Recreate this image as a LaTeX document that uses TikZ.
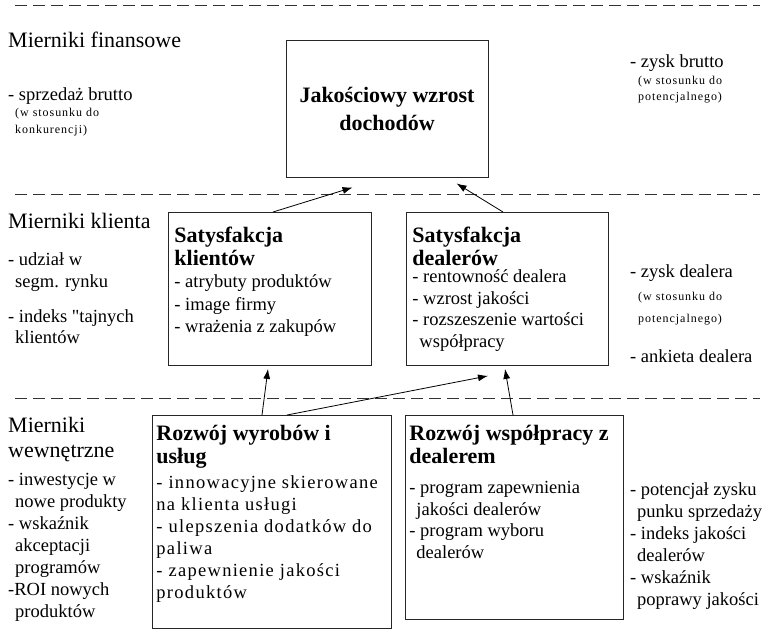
\documentclass[tikz,border=0pt]{standalone}
\usepackage{fontspec}
\setmainfont{Liberation Serif}
\newfontfamily\malyfont[LetterSpace=8]{Liberation Serif}
\newfontfamily\szerokifont[LetterSpace=7]{Liberation Serif}
\usetikzlibrary{arrows.meta, positioning}

\newcommand{\naglowek}{\fontsize{22}{25}\selectfont}
\newcommand{\tytul}{\fontsize{22}{23}\selectfont\bfseries}
\newcommand{\zwykly}{\fontsize{18.5}{22}\selectfont}
\newcommand{\wc}{\hspace*{7pt}}
\newcommand{\wnetrze}[3]{\parbox[t][#1][t]{#2}{#3}}

\tikzstyle{blok} = [rectangle, draw=black!85, line width=0.9pt, inner xsep=6pt, inner ysep=0pt, anchor=north west]
\tikzstyle{opis} = [anchor=base west, align=left, inner sep=0pt]
\tikzstyle{arrow} = [line width=0.8pt, ->, >={Latex[length=10pt,width=7pt]}]
\tikzstyle{granica} = [line width=1pt, black!80, dash pattern=on 12pt off 6pt]

\begin{document}
\begin{tikzpicture}[x=1pt, y=-1pt]
	\useasboundingbox (0,0) rectangle (769,630);

	% Dashed borders between the levels
	\draw[granica] (15,5) -- (760,5);
	\draw[granica] (15,194) -- (760,194);
	\draw[granica] (15,398) -- (760,398);

	% Boxes
	\node (dochody) [blok, anchor=center, minimum width=202pt, minimum height=137pt, align=center, font=\fontsize{22}{28}\selectfont\bfseries] at (387,108.5) {Jakościowy wzrost\\dochodów};
	\node (klienci) [blok] at (168,212) {\wnetrze{153pt}{191pt}{\rule{0pt}{30pt}{\tytul Satysfakcja\\klientów\par}{\zwykly\setlength{\baselineskip}{22.5pt}- atrybuty produktów\\- image firmy\\- wrażenia z zakupów\par}}};
	\node (dealerzy) [blok] at (406,212) {\wnetrze{153pt}{190pt}{\rule{0pt}{30pt}{\tytul Satysfakcja\\dealerów\par}\vspace{-4pt}{\zwykly\setlength{\baselineskip}{21.5pt}- rentowność dealera\\- wzrost jakości\\- rozszeszenie wartości\\\wc współpracy\par}}};
	\node (wyroby) [blok, inner xsep=4pt] at (152,415) {\wnetrze{213pt}{231pt}{\rule{0pt}{25pt}{\tytul Rozwój wyrobów i\\usług\par}\vspace{3pt}{\zwykly\szerokifont- innowacyjne skierowane\\na klienta usługi\\- ulepszenia dodatków do\\paliwa\\- zapewnienie jakości\\produktów\par}}};
	\node (wspolpraca) [blok, inner xsep=4pt] at (405,415) {\wnetrze{204pt}{210pt}{\rule{0pt}{25pt}{\tytul Rozwój współpracy z\\dealerem\par}\vspace{9pt}{\zwykly\setlength{\baselineskip}{21.5pt}- program zapewnienia\\\wc jakości dealerów\\- program wyboru\\\wc dealerów\par}}};

	% Arrows
	\draw[arrow] ([xshift=105pt]klienci.north west) -- ([xshift=67pt,yshift=-10pt]dochody.south west);
	\draw[arrow] ([xshift=97pt]dealerzy.north west) -- ([xshift=171pt,yshift=-6pt]dochody.south west);
	\draw[arrow] ([xshift=110pt]wyroby.north west) -- ([xshift=100pt,yshift=-3pt]klienci.south west);
	\draw[arrow] ([xshift=135pt]wyroby.north west) -- ([xshift=82pt,yshift=-10pt]dealerzy.south west);
	\draw[arrow] ([xshift=108pt]wspolpraca.north west) -- ([xshift=99pt,yshift=-3pt]dealerzy.south west);

	% Left column (multi-line texts sit on the baseline of their last line)
	\node (finanse) [opis, font=\naglowek] at (8,47) {Mierniki finansowe};
	\node (sprzedaz) [opis, font=\zwykly] at (8,100) {- sprzedaż brutto};
	\node (sprzedazdop) [opis, font=\malyfont\fontsize{12}{17}\selectfont] at (15,133) {(w stosunku do\\konkurencji)};
	\node (klient) [opis, font=\naglowek] at (8,228) {Mierniki klienta};
	\node (udzial) [opis, font=\zwykly] at (8,287) {- udział w\\\wc segm. rynku};
	\node (tajni) [opis, font=\fontsize{18.5}{21}\selectfont] at (8,343) {- indeks \textquotedbl tajnych\\\wc klientów};
	\node (wewn) [opis, font=\naglowek] at (8,457) {Mierniki\\wewnętrzne};
	\node (inwest) [opis, font=\zwykly] at (8,617) {- inwestycje w\\\wc nowe produkty\\- wskaźnik\\\wc akceptacji\\\wc programów\\-ROI nowych\\\wc produktów};

	% Right column
	\node (zysk) [opis, font=\zwykly] at (630,67) {- zysk brutto};
	\node (zyskdop) [opis, font=\malyfont\fontsize{12}{16}\selectfont] at (638,100) {(w stosunku do\\potencjalnego)};
	\node (zyskdeal) [opis, font=\zwykly] at (630,277) {- zysk dealera};
	\node (zyskdealdop) [opis, font=\malyfont\fontsize{12}{22}\selectfont] at (638,322) {(w stosunku do\\potencjalnego)};
	\node (ankieta) [opis, font=\zwykly] at (630,362) {- ankieta dealera};
	\node (potencjal) [opis, font=\zwykly] at (630,605) {- potencjał zysku\\\wc punku sprzedaży\\- indeks jakości\\\wc dealerów\\- wskaźnik\\\wc poprawy jakości};

\end{tikzpicture}
\end{document}
